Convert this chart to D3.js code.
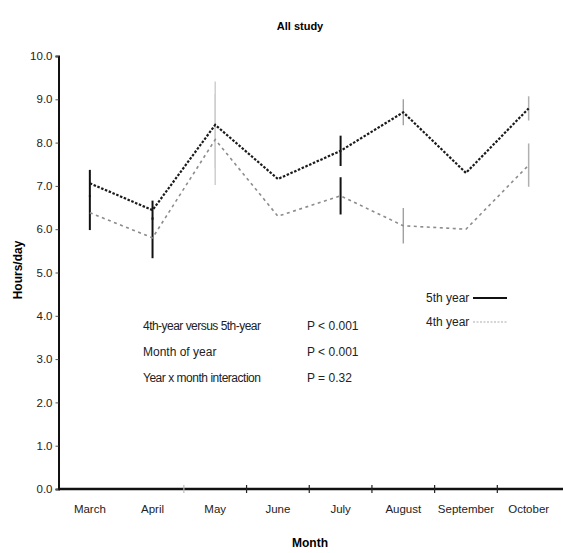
<!DOCTYPE html>
<html><head><meta charset="utf-8">
<script src="https://cdn.jsdelivr.net/npm/d3@7"></script>
<style>body{margin:0;background:#fff;} text{font-family:"Liberation Sans",Arial,sans-serif;}</style>
</head><body><svg id="c" width="563" height="553"></svg>
<script>
const months = ["March","April","May","June","July","August","September","October"];
const year5 = [7.06, 6.44, 8.41, 7.16, 7.81, 8.70, 7.30, 8.79];
const year4 = [6.38, 5.80, 8.07, 6.30, 6.77, 6.08, 6.00, 7.48];
const err5 = [0.31, 0.22, 1.00, 0, 0.35, 0.30, 0, 0.28];
const err4 = [0.40, 0.47, 1.05, 0, 0.43, 0.41, 0, 0.50];
const yTicks = [0,1,2,3,4,5,6,7,8,9,10];
const seriesNames = ["5th year","4th year"];
const statLabels = ["4th-year versus 5th-year","Month of year","Year x month interaction"];
const statValues = ["P < 0.001","P < 0.001","P = 0.32"];

const errColor = ["#111","#111","#cfcfcf",null,"#111","#9a9a9a",null,"#b0b0b0"];
const errWidth = [2,2,1.5,0,2,1.3,0,1.5];

const svg = d3.select("#c");
const x = d3.scaleBand().domain(months).range([58.5, 560]);
const y = d3.scaleLinear().domain([0,10]).range([489, 56]);

// title
svg.append("text").attr("x",300).attr("y",30).attr("text-anchor","middle")
  .attr("font-size",11).attr("font-weight","bold").text("All study");

// y axis
const ya = svg.append("g").attr("transform","translate(58.5,0)")
  .call(d3.axisLeft(y).tickValues(yTicks).tickFormat(d3.format(".1f")).tickSize(3).tickPadding(3));
ya.select(".domain").attr("stroke","#111").attr("stroke-width",2);
ya.selectAll(".tick line").attr("stroke","#555");
ya.selectAll(".tick text").attr("font-size",11.5).attr("fill","#222").attr("font-family","'Liberation Sans',Arial,sans-serif");

// x axis
const xa = svg.append("g").attr("transform","translate(0,489)")
  .call(d3.axisBottom(x).tickSize(0).tickPadding(16));
xa.select(".domain").remove();
xa.selectAll(".tick text").attr("font-size",11.5).attr("fill","#222").attr("font-family","'Liberation Sans',Arial,sans-serif");
svg.append("line").attr("x1",58.5).attr("x2",563).attr("y1",489).attr("y2",489)
  .attr("stroke","#111").attr("stroke-width",2.5);
// boundary ticks between months
svg.append("g").selectAll("line").data(months.slice(2)).join("line")
  .attr("x1",d=>x(d)).attr("x2",d=>x(d)).attr("y1",485).attr("y2",493)
  .attr("stroke",(d,i)=> i<1 ? "#bbb" : "#222").attr("stroke-width",1.2);

svg.append("text").attr("x",310).attr("y",547).attr("text-anchor","middle")
  .attr("font-size",12).attr("font-weight","bold").text("Month");
svg.append("text").attr("transform","translate(22,270) rotate(-90)").attr("text-anchor","middle")
  .attr("font-size",12).attr("font-weight","bold").text("Hours/day");

const cx = m => x(m) + x.bandwidth()/2;

// error bars
const eb = [];
months.forEach((m,i)=>{
  if(errColor[i]){
    eb.push({m, lo:year5[i]-err5[i], hi:year5[i]+err5[i], c:errColor[i], w:errWidth[i]});
    eb.push({m, lo:year4[i]-err4[i], hi:year4[i]+err4[i], c:errColor[i], w:errWidth[i]});
  }
});
svg.append("g").selectAll("line").data(eb).join("line")
  .attr("x1",d=>cx(d.m)).attr("x2",d=>cx(d.m)).attr("y1",d=>y(d.lo)).attr("y2",d=>y(d.hi))
  .attr("stroke",d=>d.c).attr("stroke-width",d=>d.w);

// lines
const line = d3.line().x((d,i)=>cx(months[i])).y(d=>y(d));
svg.append("path").datum(year4).attr("d",line).attr("fill","none")
  .attr("stroke","#8c8c8c").attr("stroke-width",1.6).attr("stroke-dasharray","3,3.5");
svg.append("path").datum(year5).attr("d",line).attr("fill","none")
  .attr("stroke","#1a1a1a").attr("stroke-width",2.2).attr("stroke-dasharray","2.5,1.6");

// stats annotation
const st = svg.append("g");
statLabels.forEach((s,i)=>{
  st.append("text").attr("x",143).attr("y",330+i*26).attr("font-size",12).attr("fill","#222")
    .attr("textLength", s.length>15 ? 118 : null).text(s);
  st.append("text").attr("x",307).attr("y",330+i*26).attr("font-size",12).attr("fill","#222").text(statValues[i]);
});

// legend
const lg = svg.append("g");
seriesNames.forEach((s,i)=>{
  const yy = 298 + i*24;
  lg.append("text").attr("x",426).attr("y",yy+4).attr("font-size",12).attr("fill","#222").text(s);
  lg.append("line").attr("x1",473).attr("x2",507).attr("y1",yy).attr("y2",yy)
    .attr("stroke", i===0 ? "#111" : "#c8c8c8").attr("stroke-width", i===0 ? 2.2 : 1.5)
    .attr("stroke-dasharray", i===0 ? null : "2,1.5");
});
</script></body></html>
